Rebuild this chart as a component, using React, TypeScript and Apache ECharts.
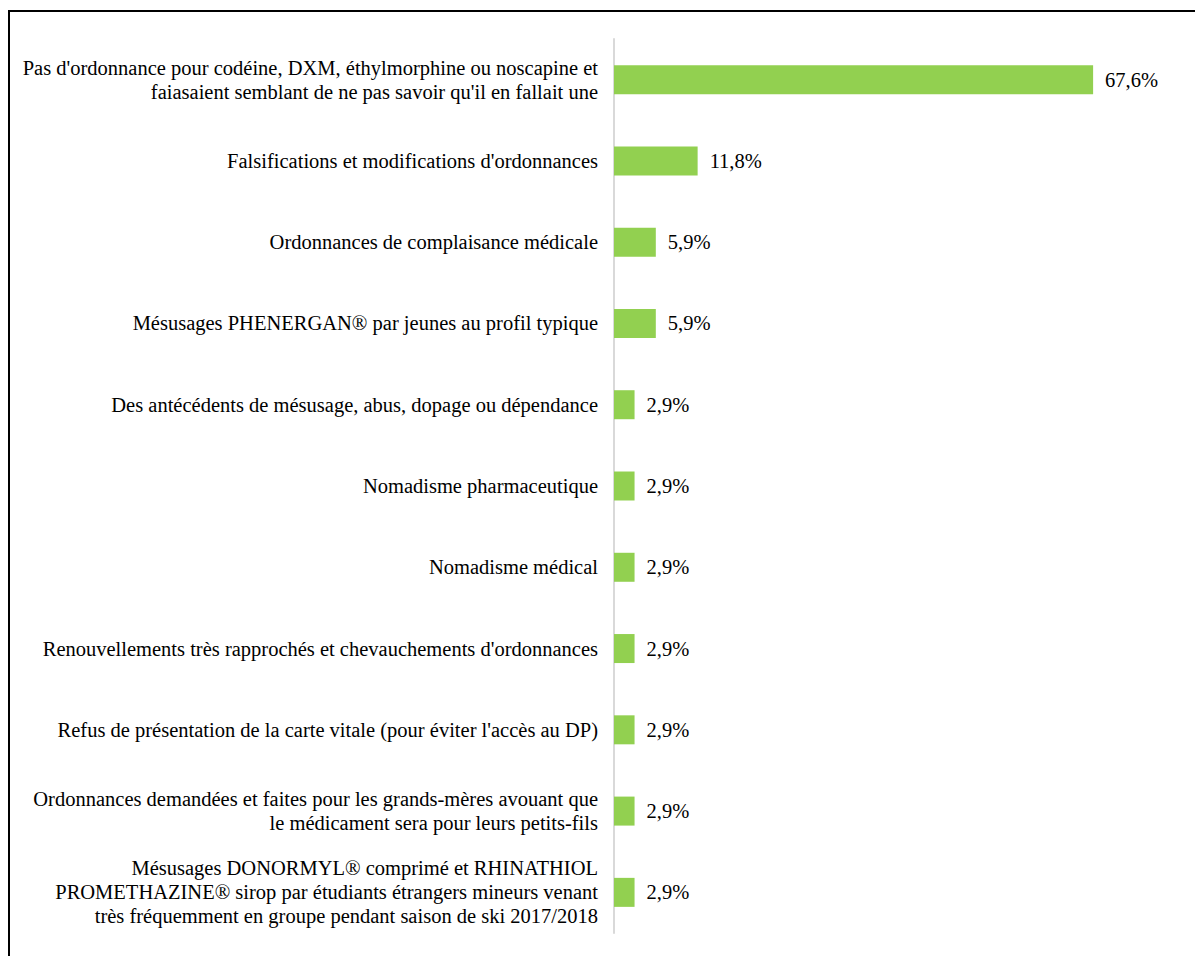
import React, { useEffect, useRef } from "react";
import * as echarts from "echarts";

const categories: string[] = [
  "Pas d'ordonnance pour codéine, DXM, éthylmorphine ou noscapine et\nfaiasaient semblant de ne pas savoir qu'il en fallait une",
  "Falsifications et modifications d'ordonnances",
  "Ordonnances de complaisance médicale",
  "Mésusages PHENERGAN® par jeunes au profil typique",
  "Des antécédents de mésusage, abus, dopage ou dépendance",
  "Nomadisme pharmaceutique",
  "Nomadisme médical",
  "Renouvellements très rapprochés et chevauchements d'ordonnances",
  "Refus de présentation de la carte vitale (pour éviter l'accès au DP)",
  "Ordonnances demandées et faites pour les grands-mères avouant que\nle médicament sera pour leurs petits-fils",
  "Mésusages DONORMYL® comprimé et RHINATHIOL\nPROMETHAZINE® sirop par étudiants étrangers mineurs venant\ntrès fréquemment en groupe pendant saison de ski 2017/2018",
];

const values: number[] = [67.6, 11.8, 5.9, 5.9, 2.9, 2.9, 2.9, 2.9, 2.9, 2.9, 2.9];

const FONT = "Liberation Serif, Times New Roman, serif";

export default function App() {
  const ref = useRef<HTMLDivElement>(null);
  useEffect(() => {
    if (!ref.current) return;
    const chart = echarts.init(ref.current, null, { renderer: "svg" });
    chart.setOption({
      animation: false,
      textStyle: { fontFamily: FONT },
      grid: { left: 604, top: 27, width: 567, height: 894, containLabel: false },
      xAxis: {
        type: "value",
        min: 0,
        max: 80,
        show: false,
      },
      yAxis: {
        type: "category",
        data: categories,
        inverse: true,
        axisLine: { show: true, lineStyle: { color: "#d9d9d9", width: 2 } },
        axisTick: { show: false },
        axisLabel: {
          margin: 16,
          align: "right",
          fontFamily: FONT,
          fontSize: 20.5,
          lineHeight: 24,
          color: "#000",
        },
      },
      series: [
        {
          type: "bar",
          data: values,
          barWidth: 29,
          itemStyle: { color: "#92D050" },
          label: {
            show: true,
            position: "right",
            distance: 12,
            fontFamily: FONT,
            fontSize: 20.5,
            color: "#000",
            formatter: (p: any) => p.value.toFixed(1).replace(".", ",") + "%",
          },
        },
      ],
    });
    return () => chart.dispose();
  }, []);
  return (
    <div
      style={{
        position: "fixed",
        left: 8,
        top: 10,
        width: 1200,
        height: 960,
        border: "2px solid #000",
        background: "#fff",
        boxSizing: "content-box",
      }}
    >
      <div ref={ref} style={{ width: 1200, height: 960 }} />
    </div>
  );
}
